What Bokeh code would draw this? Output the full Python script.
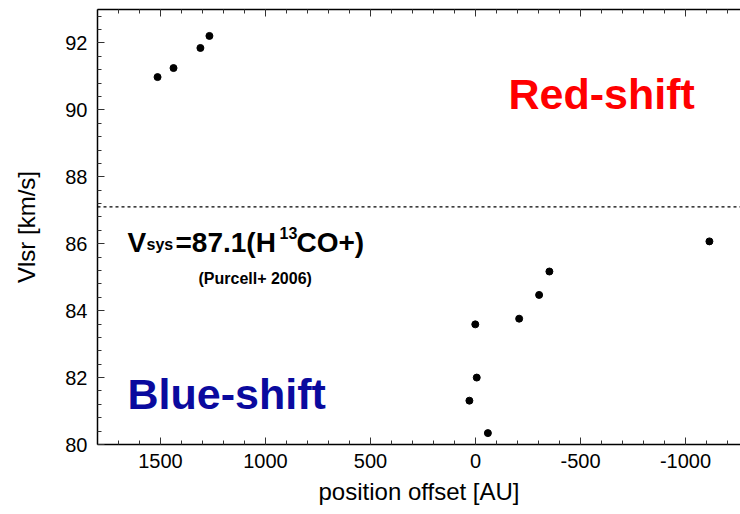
from bokeh.plotting import figure
from bokeh.models import Range1d, LinearAxis, SingleIntervalTicker, Span, Label
from bokeh.embed import file_html
from bokeh.resources import INLINE

# ---- data ----
offset_red = [1514, 1438, 1310, 1267]
vlsr_red = [90.98, 91.25, 91.85, 92.21]
offset_blue = [-352, -303, -208, 1, -6, 29, -59, -1114]
vlsr_blue = [85.17, 84.47, 83.76, 83.59, 82.0, 81.31, 80.34, 86.07]
v_sys = 87.1
x_ticks = [1500, 1000, 500, 0, -500, -1000]
y_ticks = [80, 82, 84, 86, 88, 90, 92]

FONT = "Liberation Sans"

p = figure(width=740, height=514, output_backend="svg", toolbar_location=None,
           x_range=Range1d(1800, -1262), y_range=Range1d(80, 93),
           min_border_left=97, min_border_right=0, min_border_top=9, min_border_bottom=70,
           x_axis_label="position offset [AU]", y_axis_label="Vlsr [km/s]")
p.outline_line_color = None
p.grid.visible = False
p.background_fill_color = "white"
p.border_fill_color = "white"

p.xaxis.ticker = SingleIntervalTicker(interval=500, num_minor_ticks=5)
p.yaxis.ticker = SingleIntervalTicker(interval=2, num_minor_ticks=5)
p.xaxis.major_label_overrides = {t: str(t) for t in x_ticks}
p.yaxis.major_label_overrides = {t: str(t) for t in y_ticks}

for ax in p.xaxis + p.yaxis:
    ax.axis_line_color = "black"
    ax.axis_line_width = 1.5
    ax.major_tick_in = 7
    ax.major_tick_out = 0
    ax.minor_tick_in = 4
    ax.minor_tick_out = 0
    ax.major_tick_line_color = "#333333"
    ax.minor_tick_line_color = "#333333"
    ax.major_label_text_font = FONT
    ax.major_label_text_font_size = "20px"
    ax.major_label_text_color = "black"
    ax.axis_label_text_font = FONT
    ax.axis_label_text_font_size = "24px"
    ax.axis_label_text_font_style = "normal"
    ax.axis_label_text_color = "black"

p.xaxis.major_label_standoff = 9
p.xaxis.axis_label_standoff = 7
p.yaxis.major_label_standoff = 10
p.yaxis.axis_label_standoff = 22

top = LinearAxis(ticker=SingleIntervalTicker(interval=500, num_minor_ticks=5),
                 major_label_overrides={t: "" for t in x_ticks + [2000, 1800, -1500]},
                 major_label_text_font_size="1px", major_label_standoff=0,
                 axis_line_color="black", axis_line_width=1.5,
                 major_tick_in=7, major_tick_out=0, minor_tick_in=4, minor_tick_out=0,
                 major_tick_line_color="#333333", minor_tick_line_color="#333333")
p.add_layout(top, "above")

p.add_layout(Span(location=v_sys, dimension="width", line_color="black",
                  line_width=1.2, line_dash="3 3"))

p.scatter(offset_red, vlsr_red, size=7, color="black")
p.scatter(offset_blue, vlsr_blue, size=7, color="black")

def dx(px):
    return 1800 - (px - 97) / 0.21

def dy(py):
    return 80 + (444 - py) / 33.46

def lab(txt, px, py, size, color="black", style="bold"):
    p.add_layout(Label(x=dx(px), y=dy(py), text=txt, text_font=FONT,
                       text_font_size=size, text_color=color, text_font_style=style,
                       text_align="left", text_baseline="alphabetic"))

lab("Red-shift", 508, 94, "43px", color="#ff0000")
lab("Blue-shift", 127, 394, "43px", color="#0a0a9e")
lab("V", 127, 242, "28px")
lab("sys", 146, 244, "16px")
lab("=87.1(H", 175, 242, "28px")
lab("13", 279, 233, "16px")
lab("CO+)", 296, 242, "28px")
lab("(Purcell+ 2006)", 198, 278, "16px")

open("out.html", "w").write(file_html(p, INLINE))
